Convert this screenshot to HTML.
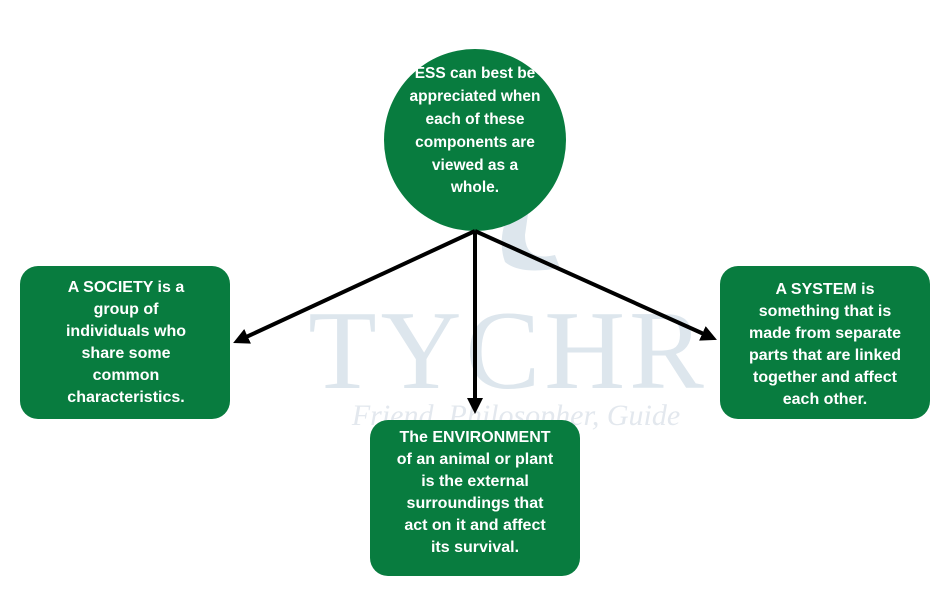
<!DOCTYPE html>
<html><head><meta charset="utf-8"><style>
html,body{margin:0;padding:0;background:#fff;}
svg{display:block;}
text{font-family:"Liberation Sans",Arial,sans-serif;}
.t{font-size:16px;font-weight:bold;fill:#fff;text-anchor:middle;}
.c{font-size:15.5px;}
</style></head><body>
<svg width="950" height="594" viewBox="0 0 950 594">
<defs>
<marker id="ah" markerWidth="16" markerHeight="16" refX="4" refY="8" orient="auto" markerUnits="userSpaceOnUse" viewBox="0 0 16 16">
<path d="M0,0 L16,8 L0,16 z" fill="#000"/>
</marker>
</defs>
<text x="508" y="388" font-size="112" fill="#dde6ed" text-anchor="middle" style="font-family:'Liberation Serif',serif;letter-spacing:4px">TYCHR</text>
<text x="516" y="425" font-size="30" fill="#e3e8ee" text-anchor="middle" style="font-family:'Liberation Serif',serif;font-style:italic">Friend, Philosopher, Guide</text>
<path d="M515,200 Q495,235 505,262 Q520,275 560,268 L555,255 Q525,262 525,235 L530,200 Z" fill="#dde6ed"/>

<circle cx="475" cy="140" r="91" fill="#087c3f"/>
<text class="t c" x="475" y="78">ESS can best be</text>
<text class="t c" x="475" y="101">appreciated when</text>
<text class="t c" x="475" y="124">each of these</text>
<text class="t c" x="475" y="147">components are</text>
<text class="t c" x="475" y="170">viewed as a</text>
<text class="t c" x="475" y="192">whole.</text>

<g stroke="#000" stroke-width="4" fill="none">
<line x1="475" y1="231" x2="244" y2="338" marker-end="url(#ah)"/>
<line x1="475" y1="231" x2="475" y2="402" marker-end="url(#ah)"/>
<line x1="475" y1="231" x2="706" y2="335" marker-end="url(#ah)"/>
</g>

<rect x="20" y="266" width="210" height="153" rx="18" fill="#087c3f"/>
<text class="t" x="126" y="292">A SOCIETY is a</text>
<text class="t" x="126" y="314">group of</text>
<text class="t" x="126" y="336">individuals who</text>
<text class="t" x="126" y="358">share some</text>
<text class="t" x="126" y="380">common</text>
<text class="t" x="126" y="402">characteristics.</text>

<rect x="720" y="266" width="210" height="153" rx="18" fill="#087c3f"/>
<text class="t" x="825" y="294">A SYSTEM is</text>
<text class="t" x="825" y="316">something that is</text>
<text class="t" x="825" y="338">made from separate</text>
<text class="t" x="825" y="360">parts that are linked</text>
<text class="t" x="825" y="382">together and affect</text>
<text class="t" x="825" y="404">each other.</text>

<rect x="370" y="420" width="210" height="156" rx="18" fill="#087c3f"/>
<text class="t" x="475" y="442">The ENVIRONMENT</text>
<text class="t" x="475" y="464">of an animal or plant</text>
<text class="t" x="475" y="486">is the external</text>
<text class="t" x="475" y="508">surroundings that</text>
<text class="t" x="475" y="530">act on it and affect</text>
<text class="t" x="475" y="552">its survival.</text>
</svg>
</body></html>
